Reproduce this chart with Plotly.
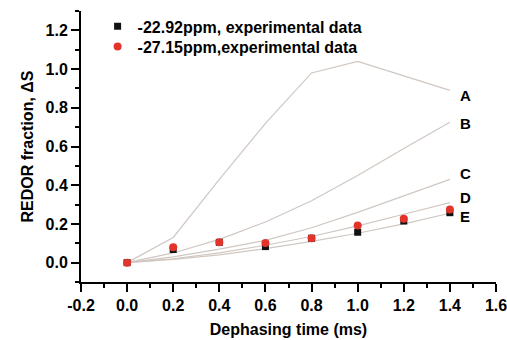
import plotly.graph_objects as go

t_exp = [0.0, 0.2, 0.4, 0.6, 0.8, 1.0, 1.2, 1.4]
s_2292 = [0.0, 0.068, 0.105, 0.083, 0.126, 0.157, 0.215, 0.258]
s_2715 = [0.0, 0.080, 0.105, 0.102, 0.126, 0.192, 0.227, 0.274]

t_sim = [0.0, 0.2, 0.4, 0.6, 0.8, 1.0, 1.2, 1.4]
curve_A = [0.0, 0.13, 0.43, 0.72, 0.98, 1.04, 0.965, 0.89]
curve_B = [0.0, 0.05, 0.12, 0.21, 0.32, 0.45, 0.59, 0.725]
curve_C = [0.0, 0.03, 0.07, 0.115, 0.18, 0.26, 0.345, 0.43]
curve_D = [0.0, 0.02, 0.05, 0.09, 0.135, 0.19, 0.25, 0.31]
curve_E = [0.0, 0.017, 0.04, 0.072, 0.11, 0.152, 0.2, 0.255]
curve_names = ["A", "B", "C", "D", "E"]
label_y = [0.862, 0.72, 0.46, 0.335, 0.24]

x_ticks = [-0.2, 0.0, 0.2, 0.4, 0.6, 0.8, 1.0, 1.2, 1.4, 1.6]
y_ticks = [0.0, 0.2, 0.4, 0.6, 0.8, 1.0, 1.2]

FONT = "Liberation Sans, Arial, sans-serif"

fig = go.Figure()
for ys in [curve_A, curve_B, curve_C, curve_D, curve_E]:
    fig.add_trace(go.Scatter(x=t_sim, y=ys, mode="lines",
                             line=dict(color="rgb(208,199,193)", width=1.2),
                             showlegend=False, hoverinfo="skip"))

fig.add_trace(go.Scatter(x=t_exp, y=s_2292, mode="markers",
                         name="-22.92ppm, experimental data", legend="legend",
                         marker=dict(symbol="square", size=7, color="#111111")))
fig.add_trace(go.Scatter(x=t_exp, y=s_2715, mode="markers",
                         name="-27.15ppm,experimental data", legend="legend2",
                         marker=dict(symbol="circle", size=8, color="#e3342c")))

for name, yv in zip(curve_names, label_y):
    fig.add_annotation(x=1.466, y=yv, text=name, showarrow=False,
                       xanchor="center", yanchor="middle",
                       font=dict(family=FONT, size=15, color="black", weight=700))

axis_common = dict(showline=True, linecolor="black", linewidth=2,
                   ticks="outside", ticklen=8, tickwidth=2, tickcolor="black",
                   showgrid=False, zeroline=False, mirror=False,
                   automargin=False, ticklabeloverflow="allow",
                   tickfont=dict(family=FONT, size=16, color="black", weight=700))

fig.update_xaxes(range=[-0.2, 1.6], tickvals=x_ticks,
                 ticktext=[f"{v:.1f}" for v in x_ticks],
                 minor=dict(ticks="outside", ticklen=4, tickwidth=2, tickcolor="black", dtick=0.1, tick0=-0.2),
                 title=dict(text="Dephasing time (ms)", standoff=11,
                            font=dict(family=FONT, size=16, color="black", weight=700)),
                 **axis_common)
fig.update_yaxes(range=[-0.1, 1.3], tickvals=y_ticks,
                 ticktext=[f"{v:.1f}" for v in y_ticks],
                 minor=dict(ticks="outside", ticklen=4, tickwidth=2, tickcolor="black", dtick=0.1, tick0=-0.1),
                 title=dict(text="REDOR fraction, ΔS", standoff=8,
                            font=dict(family=FONT, size=16, color="black", weight=700)),
                 **axis_common)

leg_font = dict(family=FONT, size=16, color="black", weight=700)
fig.update_layout(
    width=507, height=340,
    margin=dict(l=81, r=11, t=10, b=58),
    paper_bgcolor="white", plot_bgcolor="white",
    legend=dict(x=0.04, y=1.002, xanchor="left", yanchor="top",
                bgcolor="rgba(0,0,0,0)", font=leg_font, itemwidth=30),
    legend2=dict(x=0.04, y=0.928, xanchor="left", yanchor="top",
                 bgcolor="rgba(0,0,0,0)", font=leg_font, itemwidth=30),
)

fig.write_html("out.html")
